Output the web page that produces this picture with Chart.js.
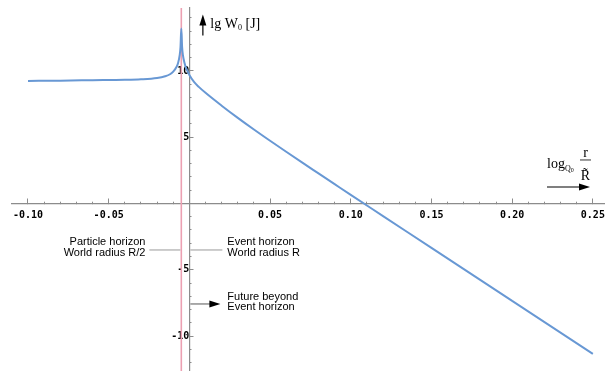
<!DOCTYPE html>
<html>
<head>
<meta charset="utf-8">
<title>lg W0</title>
<script src="https://cdn.jsdelivr.net/npm/chart.js@4.4.1/dist/chart.umd.min.js"></script>
<style>
    html, body { margin: 0; padding: 0; background: #fff; }
    #wrap { position: relative; width: 610px; height: 371px; }
</style>
</head>
<body>
<div id="wrap"><canvas id="grafico"></canvas></div>
<script>
// Curve values
const curveX = [-0.10, -0.08, -0.06, -0.04, -0.03, -0.02, -0.015, -0.012, -0.01, -0.008,
    -0.007, -0.006, -0.0055, -0.005, -0.0045, -0.004, -0.003, -0.002, -0.001, 0,
    0.003, 0.006, 0.01, 0.02, 0.03, 0.04, 0.05, 0.06, 0.07, 0.08,
    0.09, 0.10, 0.12, 0.15, 0.20, 0.25];
const curveY = [9.25, 9.27, 9.3, 9.33, 9.37, 9.47, 9.6, 9.75, 9.95, 10.3,
    10.6, 11.2, 11.8, 13.2, 11.8, 11.2, 10.6, 10.2, 9.95, 9.7,
    9.15, 8.78, 8.35, 7.38, 6.46, 5.58, 4.73, 3.9, 3.08, 2.27,
    1.46, 0.65, -0.95, -3.35, -7.35, -11.35];

// Horizon line (pink)
const horizonX = [-0.005, -0.005];
const horizonY = [-12.7, 14.8];

// Tick labels
const xTickLabels = [-0.10, -0.05, 0.05, 0.10, 0.15, 0.20, 0.25];
const yTickLabels = [-10, -5, 5, 10];

const X_MIN = -0.1099, X_MAX = 0.2569;
const Y_MIN = -12.64, Y_MAX = 14.75;

// tira o espaço reservado pelos eixos centrais
function semEspaco(s) {
    if (s.isHorizontal()) s.height = 0; else s.width = 0;
    s.paddingTop = 0; s.paddingBottom = 0;
    s.paddingLeft = 0; s.paddingRight = 0;
}

function arrow(ctx, x1, y1, x2, y2) {
    const ang = Math.atan2(y2 - y1, x2 - x1);
    ctx.beginPath();
    ctx.moveTo(x1, y1);
    ctx.lineTo(x2 - 6 * Math.cos(ang), y2 - 6 * Math.sin(ang));
    ctx.stroke();
    ctx.beginPath();
    ctx.moveTo(x2, y2);
    ctx.lineTo(x2 - 11 * Math.cos(ang) + 3.5 * Math.sin(ang), y2 - 11 * Math.sin(ang) - 3.5 * Math.cos(ang));
    ctx.lineTo(x2 - 11 * Math.cos(ang) - 3.5 * Math.sin(ang), y2 - 11 * Math.sin(ang) + 3.5 * Math.cos(ang));
    ctx.closePath();
    ctx.fill();
}

// Anotações: rótulos dos eixos e horizontes
const anotacoes = {
    id: 'anotacoes',
    afterDraw: function(chart) {
        const ctx = chart.ctx;
        const ox = chart.scales.x.getPixelForValue(0);
        const oy = chart.scales.y.getPixelForValue(0);
        ctx.save();
        ctx.fillStyle = '#000';
        ctx.strokeStyle = '#000';
        ctx.lineWidth = 1.2;

        // y axis label
        arrow(ctx, ox + 13.5, oy - 168, ox + 13.5, oy - 189);
        ctx.font = '14px "Liberation Serif"';
        ctx.textBaseline = 'alphabetic';
        ctx.textAlign = 'left';
        ctx.fillText('lg W', ox + 21, oy - 175.5);
        let w = ctx.measureText('lg W').width;
        ctx.font = '8px "Liberation Serif"';
        ctx.fillText('0', ox + 21 + w, oy - 173);
        ctx.font = '14px "Liberation Serif"';
        ctx.fillText(' [J]', ox + 25 + w, oy - 175.5);

        // x axis label
        const lx = 547;
        ctx.fillText('log', lx, oy - 35.5);
        w = ctx.measureText('log').width;
        ctx.font = '8px "Liberation Serif"';
        ctx.fillText('Q', lx + w, oy - 32);
        const wq = ctx.measureText('Q').width;
        ctx.font = '6px "Liberation Serif"';
        ctx.fillText('0', lx + w + wq, oy - 31);
        ctx.font = '14px "Liberation Serif"';
        ctx.textAlign = 'center';
        ctx.fillText('r', 585.5, oy - 46);
        ctx.fillText('R̃', 585.5, oy - 23);
        ctx.lineWidth = 0.8;
        ctx.beginPath();
        ctx.moveTo(580, oy - 43.5);
        ctx.lineTo(591, oy - 43.5);
        ctx.stroke();
        ctx.lineWidth = 1.2;
        arrow(ctx, lx, oy - 16.5, lx + 43, oy - 16.5);

        // horizon labels
        ctx.font = '11px "Liberation Sans"';
        ctx.textAlign = 'right';
        ctx.fillText('Particle horizon', ox - 44, oy + 42);
        ctx.fillText('World radius R/2', ox - 44, oy + 53);
        ctx.textAlign = 'left';
        ctx.fillText('Event horizon', ox + 38, oy + 42);
        ctx.fillText('World radius R', ox + 38, oy + 53);
        ctx.fillText('Future beyond', ox + 38, oy + 97);
        ctx.fillText('Event horizon', ox + 38, oy + 107);

        ctx.strokeStyle = '#999';
        ctx.lineWidth = 1;
        ctx.beginPath();
        ctx.moveTo(ox - 40, oy + 46.5);
        ctx.lineTo(ox - 9, oy + 46.5);
        ctx.moveTo(ox + 1, oy + 46.5);
        ctx.lineTo(ox + 33, oy + 46.5);
        ctx.stroke();

        ctx.strokeStyle = '#555';
        ctx.fillStyle = '#000';
        arrow(ctx, ox + 1, oy + 100.5, ox + 31, oy + 100.5);
        ctx.restore();
    }
};

const tickFont = { family: '"DejaVu Sans Mono"', size: 10, weight: 'bold' };

// eixo com ticks menores (sem rótulos)
function eixoMenor(min, max, pos, passo, de, ate) {
    return {
        type: 'linear',
        min: min,
        max: max,
        position: pos,
        afterFit: semEspaco,
        afterBuildTicks: function(s) {
            const t = [];
            for (let i = de; i <= ate; i++) t.push({ value: i * passo });
            s.ticks = t;
        },
        border: { color: '#8c8c8c', width: 1.2 },
        grid: { drawOnChartArea: false, tickLength: -2.5, color: '#8c8c8c' },
        ticks: { autoSkip: false, display: false }
    };
}

// eixo com ticks maiores e rótulos
function eixoMaior(min, max, pos, labels, fmt, pad) {
    return {
        type: 'linear',
        min: min,
        max: max,
        position: pos,
        afterFit: semEspaco,
        afterBuildTicks: function(s) {
            s.ticks = labels.map(function(v) { return { value: v }; });
        },
        border: { display: false },
        grid: { drawOnChartArea: false, tickLength: -4.5, color: '#8c8c8c' },
        ticks: {
            autoSkip: false,
            maxRotation: 0,
            padding: pad,
            color: '#000',
            font: tickFont,
            callback: fmt
        }
    };
}

new Chart(document.getElementById('grafico'), {
    type: 'scatter',
    data: {
        datasets: [
            {
                data: horizonX.map(function(x, i) { return { x: x, y: horizonY[i] }; }),
                showLine: true,
                borderColor: 'rgb(236, 160, 178)',
                borderWidth: 1.6,
                pointRadius: 0,
                order: 2
            },
            {
                data: curveX.map(function(x, i) { return { x: x, y: curveY[i] }; }),
                showLine: true,
                borderColor: 'rgb(104, 152, 212)',
                borderWidth: 2,
                pointRadius: 0,
                cubicInterpolationMode: 'monotone',
                order: 1
            }
        ]
    },
    options: {
        responsive: true,
        maintainAspectRatio: false,
        animation: false,
        layout: { padding: { left: 12, right: 6, top: 8, bottom: 0 } },
        plugins: { legend: { display: false }, tooltip: { enabled: false } },
        scales: {
            x: eixoMenor(X_MIN, X_MAX, { y: 0 }, 0.01, -10, 25),
            y: eixoMenor(Y_MIN, Y_MAX, { x: 0 }, 1, -12, 14),
            x2: eixoMaior(X_MIN, X_MAX, { y: 0 }, xTickLabels,
                function(v) { return v.toFixed(2); }, 10),
            y2: eixoMaior(Y_MIN, Y_MAX, { x: 0 }, yTickLabels,
                function(v) { return String(v); }, 0)
        }
    },
    plugins: [anotacoes]
});
</script>
</body>
</html>
